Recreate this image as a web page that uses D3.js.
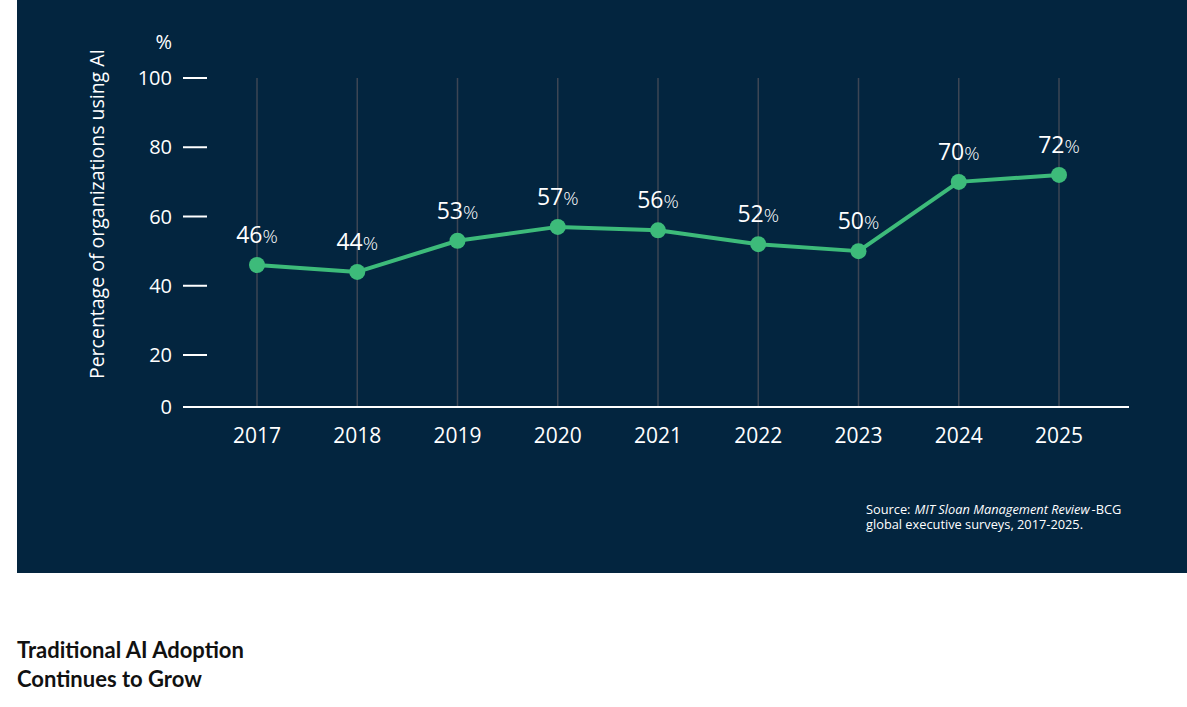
<!DOCTYPE html>
<html>
<head>
<meta charset="utf-8">
<script src="https://cdn.jsdelivr.net/npm/d3@7"></script>
<style>
  body { margin: 0; background: #ffffff; }
  svg { display: block; }
</style>
</head>
<body>
<svg id="chart-svg"></svg>
<script>
// chart data
const years = [2017, 2018, 2019, 2020, 2021, 2022, 2023, 2024, 2025];
const adoption = [46, 44, 53, 57, 56, 52, 50, 70, 72];
const yTicks = [0, 20, 40, 60, 80, 100];
const sourceLines = [
    [["Source:", "normal"], ["MIT Sloan Management Review", "italic"], ["-BCG", "normal"]],
    [["global executive surveys, 2017-2025.", "normal"]]
];
const titleLines = ["Traditional AI Adoption", "Continues to Grow"];

const width = 1187;
const height = 707;
const font = "'Open Sans', sans-serif";
const titleFont = "Lato, sans-serif";
const green = "#3dbb7a";

let svg = d3.select("#chart-svg")
    .attr("width", width)
    .attr("height", height);

// dark panel
svg.append("rect")
    .attr("x", 17)
    .attr("y", 0)
    .attr("width", width - 17)
    .attr("height", 573)
    .attr("fill", "#03253f");

const x = d3.scalePoint()
    .domain(years)
    .range([257, 1059]);

// bottom step of the axis is squeezed in the original, so use a piecewise scale
const y = d3.scaleLinear()
    .domain([0, 20, 100])
    .range([407, 355, 78]);

// vertical gridlines per year
svg.append("g")
    .selectAll("line")
    .data(years)
    .enter()
    .append("line")
    .attr("x1", d => x(d))
    .attr("x2", d => x(d))
    .attr("y1", y(100))
    .attr("y2", y(0))
    .attr("stroke", "#3d4654")
    .attr("stroke-width", 1.5);

// y ticks (short dashes) and labels
let yAxis = svg.append("g");
yAxis.selectAll("line")
    .data(yTicks.filter(d => d > 0))
    .enter()
    .append("line")
    .attr("x1", 183)
    .attr("x2", 207)
    .attr("y1", d => y(d))
    .attr("y2", d => y(d))
    .attr("stroke", "#ffffff")
    .attr("stroke-width", 2);
yAxis.selectAll("text")
    .data(yTicks)
    .enter()
    .append("text")
    .attr("x", 172)
    .attr("y", d => y(d))
    .attr("dy", "0.36em")
    .attr("text-anchor", "end")
    .attr("font-family", font)
    .attr("font-size", 20)
    .attr("fill", "#ffffff")
    .text(d => d);

svg.append("text")
    .attr("x", 172)
    .attr("y", 49)
    .attr("text-anchor", "end")
    .attr("font-family", font)
    .attr("font-size", 20)
    .attr("fill", "#ffffff")
    .text("%");

// baseline
svg.append("line")
    .attr("x1", 183)
    .attr("x2", 1129)
    .attr("y1", y(0))
    .attr("y2", y(0))
    .attr("stroke", "#ffffff")
    .attr("stroke-width", 2);

// year labels
svg.append("g")
    .selectAll("text")
    .data(years)
    .enter()
    .append("text")
    .attr("x", d => x(d))
    .attr("y", 443)
    .attr("text-anchor", "middle")
    .attr("font-family", font)
    .attr("font-size", 21)
    .attr("fill", "#ffffff")
    .text(d => d);

// y axis title
svg.append("text")
    .attr("transform", "translate(104," + 214 + ") rotate(-90)")
    .attr("text-anchor", "middle")
    .attr("font-family", font)
    .attr("font-size", 19.5)
    .attr("fill", "#ffffff")
    .text("Percentage of organizations using AI");

// line + points
const line = d3.line()
    .x((d, i) => x(years[i]))
    .y(d => y(d));

svg.append("path")
    .datum(adoption)
    .attr("d", line)
    .attr("fill", "none")
    .attr("stroke", green)
    .attr("stroke-width", 4)
    .attr("stroke-linejoin", "round");

svg.append("g")
    .selectAll("circle")
    .data(adoption)
    .enter()
    .append("circle")
    .attr("cx", (d, i) => x(years[i]))
    .attr("cy", d => y(d))
    .attr("r", 8)
    .attr("fill", green);

// value labels, number + lighter percent sign
let labels = svg.append("g")
    .selectAll("text")
    .data(adoption)
    .enter()
    .append("text")
    .attr("x", (d, i) => x(years[i]))
    .attr("y", d => y(d) - 22)
    .attr("text-anchor", "middle")
    .attr("font-family", font)
    .attr("fill", "#ffffff");
labels.append("tspan")
    .attr("font-size", 23)
    .text(d => d);
labels.append("tspan")
    .attr("font-size", 19)
    .attr("font-weight", 300)
    .text("%");

// source note: each run is its own text, placed after the previous one's width
let sourceG = svg.append("g");
sourceLines.forEach((parts, li) => {
    let cursor = 866;
    parts.forEach((p, pi) => {
        let t = sourceG.append("text")
            .attr("x", cursor)
            .attr("y", 514 + li * 15)
            .attr("font-family", font)
            .attr("font-size", 12.8)
            .attr("font-style", p[1])
            .attr("fill", "#ffffff")
            .text(p[0]);
        let gap = (pi === 0) ? 4 : 2;
        cursor += t.node().getComputedTextLength() + gap;
    });
});

// title under the panel
svg.append("g")
    .selectAll("text")
    .data(titleLines)
    .enter()
    .append("text")
    .attr("x", 17)
    .attr("y", (d, i) => 658 + i * 29)
    .attr("font-family", titleFont)
    .attr("font-size", 22)
    .attr("font-weight", 700)
    .attr("fill", "#111111")
    .text(d => d);
</script>
</body>
</html>
